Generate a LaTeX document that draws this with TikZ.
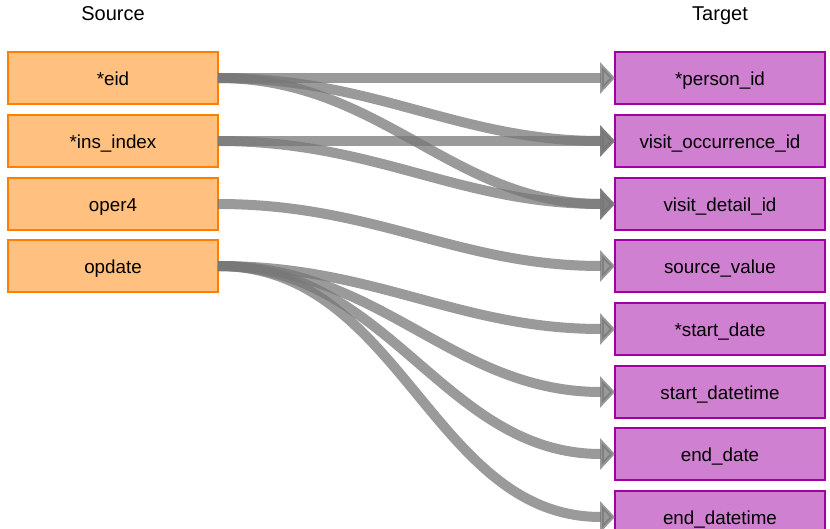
\documentclass[tikz,border=0pt]{standalone}
\usepackage{fontspec}
\setmainfont{Liberation Sans}
\usepackage{tikz}
\usepackage{xcolor}
\usetikzlibrary{arrows.meta, positioning}
\definecolor{SrcFill}{HTML}{FFC080}
\definecolor{SrcLine}{HTML}{FF8000}
\definecolor{TgtFill}{HTML}{D080D0}
\definecolor{TgtLine}{HTML}{A000A0}
\definecolor{LinkGray}{HTML}{777777}

\tikzset{
  field/.style={minimum width=210pt, minimum height=52pt, inner sep=0pt, outer sep=0pt,
    line width=1.5pt, font=\fontsize{18.8}{22}\selectfont,
    text height=1.5em, text depth=0.02em},
  srcfield/.style={field, draw=SrcLine, fill=SrcFill},
  tgtfield/.style={field, draw=TgtLine, fill=TgtFill},
  heading/.style={font=\fontsize{20}{24}\selectfont, anchor=base},
  link/.style={line width=10pt, draw=LinkGray, opacity=0.74,
    -{Triangle[length=15pt, width=31pt]}},
}

\begin{document}
\begin{tikzpicture}[x=1pt, y=-1pt]
\useasboundingbox (0,0) rectangle (830,529);
\clip (0,0) rectangle (830,529);
% --- headings ---
\node[heading] (src) at (113,21) {Source};
\node[heading] (tgt) at (720,21) {Target};
% --- source fields ---
\node[srcfield] (eid) at (113,78) {*eid};
\node[srcfield] (insindex) at (113,141) {*ins\_index};
\node[srcfield] (oper) at (113,204) {oper4};
\node[srcfield] (opdate) at (113,266) {opdate};
% --- target fields ---
\node[tgtfield] (person) at (720,78) {*person\_id};
\node[tgtfield] (visitocc) at (720,141) {visit\_occurrence\_id};
\node[tgtfield] (visitdet) at (720,204) {visit\_detail\_id};
\node[tgtfield] (srcvalue) at (720,266) {source\_value};
\node[tgtfield] (startdate) at (720,329) {*start\_date};
\node[tgtfield] (startdt) at (720,392) {start\_datetime};
\node[tgtfield] (enddate) at (720,454) {end\_date};
\node[tgtfield] (enddt) at (720,517) {end\_datetime};
% --- mappings ---
\draw[link] (eid.east) to[out=0, in=180] (person.west);
\draw[link] (eid.east) to[out=0, in=180] (visitocc.west);
\draw[link] (eid.east) to[out=0, in=180] (visitdet.west);
\draw[link] (insindex.east) to[out=0, in=180] (visitocc.west);
\draw[link] (insindex.east) to[out=0, in=180] (visitdet.west);
\draw[link] (oper.east) to[out=0, in=180] (srcvalue.west);
\draw[link] (opdate.east) to[out=0, in=180] (startdate.west);
\draw[link] (opdate.east) to[out=0, in=180] (startdt.west);
\draw[link] (opdate.east) to[out=0, in=180] (enddate.west);
\draw[link] (opdate.east) to[out=0, in=180] (enddt.west);
\end{tikzpicture}
\end{document}
